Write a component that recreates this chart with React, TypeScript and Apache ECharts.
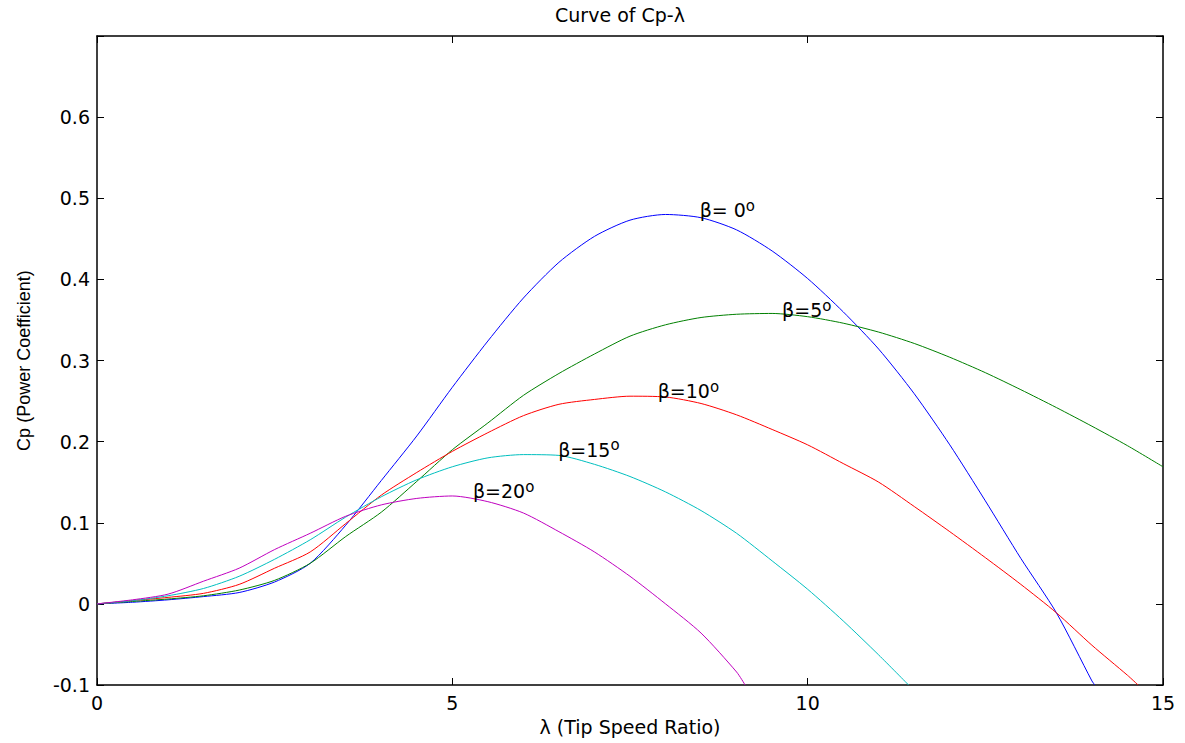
import React, { useEffect, useRef } from "react";
import * as echarts from "echarts";

// ---- data ----
const lambdaB0 = [0, 0.5, 1, 1.5, 2, 2.5, 3, 3.5, 4, 4.5, 5, 5.5, 6, 6.5, 7, 7.5, 8, 8.5, 9, 9.5, 10, 10.5, 11, 11.5, 12, 12.5, 13, 13.5, 14, 14.04];
const cpB0 = [0, 0.002, 0.005, 0.009, 0.014, 0.027, 0.05, 0.097, 0.152, 0.207, 0.267, 0.324, 0.377, 0.421, 0.453, 0.473, 0.48, 0.476, 0.461, 0.435, 0.401, 0.36, 0.314, 0.259, 0.196, 0.127, 0.056, -0.011, -0.095, -0.1];

const lambdaB5 = [0, 0.5, 1, 1.5, 2, 2.5, 3, 3.5, 4, 4.5, 5, 5.5, 6, 6.5, 7, 7.5, 8, 8.5, 9, 9.5, 10, 10.5, 11, 11.5, 12, 12.5, 13, 13.5, 14, 14.5, 15];
const cpB5 = [0, 0.003, 0.006, 0.01, 0.017, 0.029, 0.05, 0.083, 0.113, 0.151, 0.19, 0.223, 0.257, 0.284, 0.308, 0.33, 0.344, 0.353, 0.357, 0.358, 0.354, 0.346, 0.335, 0.321, 0.304, 0.285, 0.264, 0.242, 0.219, 0.195, 0.169];

const lambdaB10 = [0, 0.5, 1, 1.5, 2, 2.5, 3, 3.5, 4, 4.5, 5, 5.5, 6, 6.5, 7, 7.5, 8, 8.5, 9, 9.5, 10, 10.5, 11, 11.5, 12, 12.5, 13, 13.5, 14, 14.5, 14.65];
const cpB10 = [0, 0.004, 0.008, 0.013, 0.024, 0.044, 0.064, 0.099, 0.134, 0.162, 0.188, 0.211, 0.232, 0.246, 0.252, 0.256, 0.255, 0.247, 0.233, 0.215, 0.196, 0.173, 0.15, 0.12, 0.089, 0.057, 0.024, -0.011, -0.051, -0.088, -0.1];

const lambdaB15 = [0, 0.5, 1, 1.5, 2, 2.5, 3, 3.5, 4, 4.5, 5, 5.5, 6, 6.5, 7, 7.5, 8, 8.5, 9, 9.5, 10, 10.5, 11, 11.42];
const cpB15 = [0, 0.004, 0.01, 0.019, 0.034, 0.055, 0.079, 0.107, 0.132, 0.153, 0.169, 0.18, 0.184, 0.183, 0.172, 0.157, 0.138, 0.115, 0.087, 0.053, 0.018, -0.021, -0.063, -0.1];

const lambdaB20 = [0, 0.5, 1, 1.5, 2, 2.5, 3, 3.5, 4, 4.5, 5, 5.5, 6, 6.5, 7, 7.5, 8, 8.5, 9, 9.12];
const cpB20 = [0, 0.005, 0.012, 0.028, 0.044, 0.067, 0.087, 0.108, 0.122, 0.13, 0.133, 0.126, 0.112, 0.089, 0.064, 0.034, 0.0, -0.036, -0.084, -0.1];

const seriesNames = ["β=0", "β=5", "β=10", "β=15", "β=20"];
const seriesColors = ["#0000FF", "#008000", "#FF0000", "#00BFBF", "#BF00BF"];
const lambdaSets = [lambdaB0, lambdaB5, lambdaB10, lambdaB15, lambdaB20];
const cpSets = [cpB0, cpB5, cpB10, cpB15, cpB20];

const betaLabels = ["β= 0", "β=5", "β=10", "β=15", "β=20"];
const labelLambda = [8.48, 9.64, 7.89, 6.49, 5.29];
const labelCp = [0.485, 0.362, 0.262, 0.19, 0.139];

const xTicks = { min: 0, max: 15, interval: 5 };
const yTicks = { min: -0.1, max: 0.7, interval: 0.1 };

const titleText = "Curve of Cp-λ";
const xName = "λ (Tip Speed Ratio)";
const yName = "Cp (Power Coefficient)";

const FONT = "DejaVu Sans";

export default function App() {
  const ref = useRef<HTMLDivElement>(null);

  useEffect(() => {
    if (!ref.current) return;
    const chart = echarts.init(ref.current, undefined, { renderer: "svg" });

    const axisLine = { show: true, onZero: false, lineStyle: { color: "#000", width: 1.5 } };
    const tick = { show: true, inside: true, length: 7, lineStyle: { color: "#000", width: 1 } };

    const series = seriesNames.map((name, i) => ({
      name,
      type: "line",
      data: lambdaSets[i].map((l, j) => [l, cpSets[i][j]]),
      showSymbol: false,
      symbol: "none",
      smooth: 0.25,
      lineStyle: { color: seriesColors[i], width: 1 },
      itemStyle: { color: seriesColors[i] },
      clip: true,
      z: 2,
      markPoint: {
        symbol: "circle",
        symbolSize: 0,
        silent: true,
        data: [
          {
            coord: [labelLambda[i], labelCp[i]],
            label: {
              show: true,
              position: "right",
              distance: 0,
              formatter: `{m|${betaLabels[i]}}{s|o}`,
              rich: {
                m: { fontSize: 19, fontFamily: FONT, color: "#000", lineHeight: 24 },
                s: { fontSize: 15, fontFamily: FONT, color: "#000", lineHeight: 12, verticalAlign: "top" },
              },
            },
          },
        ],
      },
    }));

    chart.setOption({
      animation: false,
      backgroundColor: "#fff",
      grid: { left: 97, right: 22, top: 36, bottom: 58, containLabel: false },
      graphic: [
        {
          type: "text",
          x: 620,
          y: 15,
          style: {
            text: titleText,
            fill: "#000",
            font: `19px "${FONT}"`,
            textAlign: "center",
            textVerticalAlign: "middle",
          },
        },
      ],
      xAxis: [
        {
          type: "value",
          position: "bottom",
          min: xTicks.min,
          max: xTicks.max,
          interval: xTicks.interval,
          axisLine,
          axisTick: tick,
          splitLine: { show: false },
          axisLabel: { color: "#000", fontSize: 19, fontFamily: FONT, margin: 8 },
          name: xName,
          nameLocation: "middle",
          nameGap: 32,
          nameTextStyle: { color: "#000", fontSize: 19, fontFamily: FONT },
        },
        {
          type: "value",
          position: "top",
          min: xTicks.min,
          max: xTicks.max,
          interval: xTicks.interval,
          axisLine,
          axisTick: tick,
          splitLine: { show: false },
          axisLabel: { show: false },
        },
      ],
      yAxis: [
        {
          type: "value",
          position: "left",
          min: yTicks.min,
          max: yTicks.max,
          interval: yTicks.interval,
          axisLine,
          axisTick: tick,
          splitLine: { show: false },
          axisLabel: {
            color: "#000",
            fontSize: 19,
            fontFamily: FONT,
            margin: 7,
            formatter: (v: number) => {
              const r = Math.round(v * 10) / 10;
              if (Math.abs(r - 0.7) < 1e-9) return "";
              return String(r);
            },
          },
          name: yName,
          nameLocation: "middle",
          nameGap: 64,
          nameTextStyle: { color: "#000", fontSize: 18, fontFamily: "Liberation Sans" },
        },
        {
          type: "value",
          position: "right",
          min: yTicks.min,
          max: yTicks.max,
          interval: yTicks.interval,
          axisLine,
          axisTick: tick,
          splitLine: { show: false },
          axisLabel: { show: false },
        },
      ],
      series,
    });

    return () => chart.dispose();
  }, []);

  return (
    <div
      ref={ref}
      style={{ position: "absolute", left: 0, top: 0, width: 1185, height: 743, background: "#fff" }}
    />
  );
}
